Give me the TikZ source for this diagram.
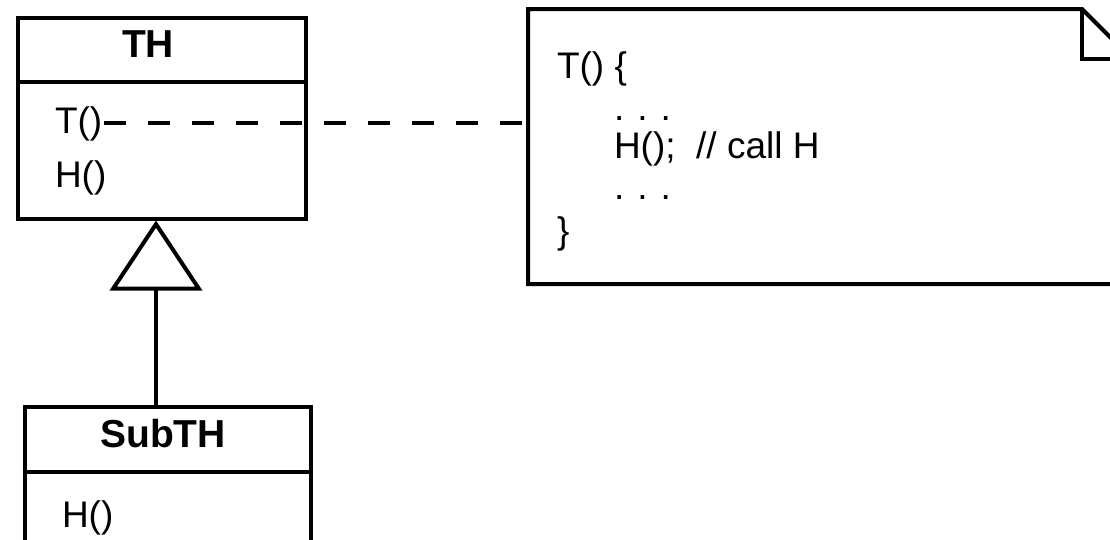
\documentclass[tikz,border=0pt]{standalone}
\usepackage{fontspec}
\setmainfont{Liberation Sans}
\usetikzlibrary{arrows.meta}
\begin{document}
\begin{tikzpicture}[x=1pt,y=-1pt,line width=4pt,
  txt/.style={inner sep=0pt,font=\fontsize{37}{44}\selectfont},
  btxt/.style={inner sep=0pt,font=\fontsize{39}{46}\selectfont\bfseries},
  classbox/.style={draw,inner sep=0pt,anchor=north west},
  dep/.style={dash pattern=on 22pt off 22pt},
  inherit/.style={-{Triangle[open,length=70pt,width=92pt]}}]
\useasboundingbox (0,0) rectangle (1110,539);
% TH class
\node[classbox,minimum width=288pt,minimum height=201pt] (th) at (16,15.5) {};
\draw ([yshift=-66pt]th.north west) -- ([yshift=-66pt]th.north east);
\node[btxt,anchor=base] (thname) at (148,57) {TH};
\node[txt,anchor=base west] (tmeth) at (53,133) {T()};
\node[txt,anchor=base west] (hmeth) at (53,187) {H()};
% SubTH class
\node[classbox,minimum width=286.5pt,minimum height=200pt] (sub) at (22.5,404.5) {};
\draw ([yshift=-67pt]sub.north west) -- ([yshift=-67pt]sub.north east);
\node[btxt,anchor=base] (subname) at (163,447) {SubTH};
\node[txt,anchor=base west] (subh) at (60,527) {H()};
% inheritance
\coordinate (ix) at (156,0);
\draw[inherit] (ix |- sub.north) -- (ix |- th.south);
% note
\node[inner sep=0pt,minimum width=600pt,minimum height=271pt,anchor=north west] (note) at (528,9) {};
\draw ([xshift=-50pt]note.north east) -- ([xshift=-50pt]note.north east) coordinate (fold)
  (note.north west) -- (fold) -- ([yshift=-50pt]note.north east) -- (note.south east) -- (note.south west) -- cycle;
\draw (fold) -- ([yshift=-50pt]fold) -- ([yshift=-50pt]note.north east);
\node[txt,anchor=base west] (l1) at (555,78) {T() \{};
\node[txt,anchor=base west] (l2) at (612,120) {.\hspace{13pt}.\hspace{13pt}.};
\node[txt,anchor=base west] (l3) at (612,158) {H();\ \ // call H};
\node[txt,anchor=base west] (l4) at (612,199) {.\hspace{13pt}.\hspace{13pt}.};
\node[txt,anchor=base west] (l5) at (555,243) {\}};
% dependency
\draw[dep] (tmeth.east) -- (tmeth.east -| note.west);
\end{tikzpicture}
\end{document}
